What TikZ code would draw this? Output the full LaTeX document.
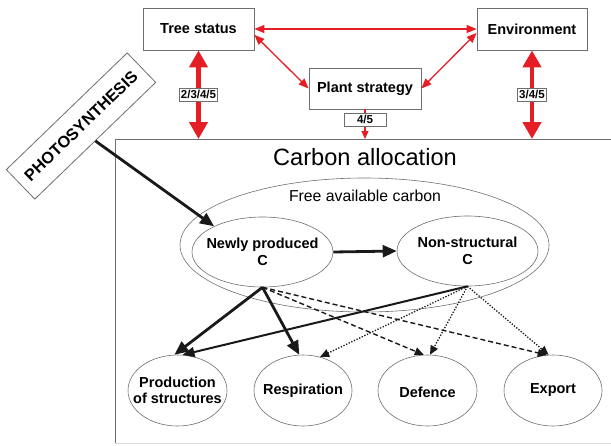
\documentclass[tikz,border=0pt]{standalone}
\usepackage{fontspec}
\setmainfont{Liberation Sans}
\usetikzlibrary{arrows.meta,shapes.geometric}
\definecolor{cred}{RGB}{228,30,36}
\definecolor{cgray}{RGB}{110,110,110}
\begin{document}
\begin{tikzpicture}[x=1pt,y=-1pt,
  topbox/.style={draw=cgray, line width=0.8pt, fill=white, minimum width=111pt, minimum height=42pt, inner sep=0pt, font=\fontsize{14.5}{16}\bfseries\selectfont},
  lbl/.style={draw=cgray, line width=0.7pt, fill=white, minimum height=13pt, inner sep=1.5pt, font=\fontsize{11.5}{12}\bfseries\selectfont},
  oval/.style={ellipse, draw=cgray, line width=0.6pt, inner sep=0pt},
  ovaltext/.style={align=center, inner sep=0pt, font=\fontsize{14.5}{16.5}\bfseries\selectfont},
  redthick/.style={cred, line width=4.5pt, {Triangle[length=17pt,width=18pt]}-{Triangle[length=17pt,width=18pt]}},
  redthin/.style={cred, line width=1.3pt, {Triangle[length=10pt,width=8pt]}-{Triangle[length=10pt,width=8pt]}},
  blackthick/.style={black!90, line width=2.8pt, -{Triangle[length=14pt,width=12pt]}},
  blackmed/.style={black!90, line width=2pt, -{Triangle[length=12pt,width=10pt]}},
  dashedarr/.style={black!90, line width=1.4pt, dash pattern=on 5pt off 3pt, -{Triangle[length=9pt,width=8pt]}},
  dottedarr/.style={black!90, line width=1.3pt, dash pattern=on 1.3pt off 1.6pt, -{Triangle[length=9pt,width=8pt]}},
]
\useasboundingbox (0,0) rectangle (611,445);

% main box
\draw[draw=cgray, line width=0.9pt] (115,443) -- (115,139) -- (620,139);
\draw[draw=black!15, line width=0.6pt] (115,443) -- (620,443);
\node (ca) at (365,157) {\fontsize{23.6}{26}\selectfont Carbon allocation};

% free available carbon
\node[oval, minimum width=369pt, minimum height=134pt] (fac) at (364.5,245) {};
\node (factxt) at (365,196) {\fontsize{15.8}{18}\selectfont Free available carbon};

\node[oval, minimum width=141pt, minimum height=70pt] (np) at (262.5,252) {};
\node[ovaltext] (nptxt) at (262.5,252) {Newly produced\\C};
\node[oval, minimum width=141pt, minimum height=70pt] (ns) at (467.5,251) {};
\node[ovaltext] (nstxt) at (467.5,251) {Non-structural\\C};

\node[oval, minimum width=99pt, minimum height=71pt] (prod) at (177.5,390.5) {};
\node[ovaltext] (prodtxt) at (177.5,390.5) {Production\\of structures};
\node[oval, minimum width=98pt, minimum height=71pt] (resp) at (303,390.5) {};
\node[ovaltext] (resptxt) at (303,390.5) {Respiration};
\node[oval, minimum width=99pt, minimum height=71pt] (def) at (427.5,390.5) {};
\node[ovaltext] (deftxt) at (427.5,392) {Defence};
\node[oval, minimum width=98pt, minimum height=71pt] (exp) at (553,390.5) {};
\node[ovaltext] (exptxt) at (553,390.5) {Export};

% top boxes
\node[topbox] (ts) at (198.5,29) {Tree status};
\node[topbox, minimum width=110pt] (env) at (532,29) {Environment};
\node[topbox, minimum width=112pt, minimum height=41pt] (ps) at (365,88.5) {Plant strategy};

\coordinate (tsdown) at (198.5,139);
\coordinate (envdown) at (532,139);
\coordinate (psdown) at (365,139);

% red arrows
\draw[redthick] (ts.south) -- (tsdown);
\draw[redthick] (env.south) -- (envdown);
\draw[redthin] (ts.east) -- (env.west);
\draw[redthin] (ts.-6) -- (ps.west);
\draw[redthin] (ps.east) -- (env.184);
\draw[cred, line width=1.1pt, -{Triangle[length=8pt,width=7pt]}] (ps.south) -- (psdown);

\node[lbl] (l1) at (198.5,94.5) {2/3/4/5};
\node[lbl] (l2) at (532,94.5) {3/4/5};
\node[lbl, minimum width=42pt] (l3) at (365,119.5) {4/5};

% photosynthesis
\node[draw=cgray, line width=0.8pt, fill=white, rotate=44, minimum width=168pt, minimum height=41pt, inner sep=0pt, font=\fontsize{16.3}{18}\bfseries\selectfont] (photo) at (81,126) {PHOTOSYNTHESIS};
\draw[blackthick] (photo.south) -- (np.152);

% carbon flows
\draw[blackthick] (np.east) -- (ns.west);
\draw[dashedarr] (np.south) -- (def.96);
\draw[dashedarr] (np.south) -- (exp.100);
\draw[dottedarr] (ns.south) -- (resp.63);
\draw[dottedarr] (ns.south) -- (def.86);
\draw[dottedarr] (ns.south) -- (exp.97);
\draw[blackmed] (ns.south) -- (prod.82);
\draw[blackthick] (np.south) -- (prod.95);
\draw[blackthick] (np.south) -- (resp.96);
\end{tikzpicture}
\end{document}
